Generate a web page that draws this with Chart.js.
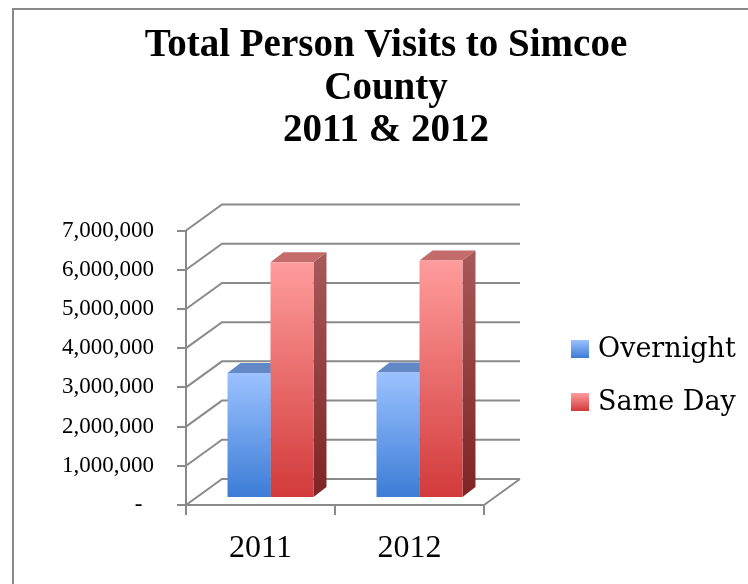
<!DOCTYPE html>
<html>
<head>
<meta charset="utf-8">
<style>
  html, body { margin: 0; padding: 0; background: #fff; }
  #wrap { width: 748px; height: 584px; }
</style>
<script src="https://cdn.jsdelivr.net/npm/chart.js@4/dist/chart.umd.min.js"></script>
</head>
<body>
<div id="wrap"><canvas id="chart" width="748" height="584"></canvas></div>
<script>
const years = ['2011', '2012'];
const overnight = [3190000, 3200000];
const sameDay = [6010000, 6060000];
const visitTicks = [0, 1000000, 2000000, 3000000, 4000000, 5000000, 6000000, 7000000];
const titleLines = ['Total Person Visits to Simcoe', 'County', '2011 & 2012'];

// fake 3d: back wall offset, bar offset from the front plane, bar depth
const WALL_DX = 36, WALL_DY = -26;
const BAR_DX = 10, BAR_DY = -7;
const SIDE_DX = 13, SIDE_DY = -10;
const GRID = '#8a8a8a';

const palette = [
  { light: '#9cc2ff', dark: '#3b7cd6', top: '#6288c6', sideLight: '#4d76b8', sideDark: '#2b5596' },
  { light: '#ff9c9c', dark: '#d23a3a', top: '#c46b6b', sideLight: '#a65757', sideDark: '#7e2424' }
];

function frontGradient(c) {
  const chart = c.chart;
  const y = chart.scales.y;
  const p = palette[c.datasetIndex];
  if (!y || c.raw === undefined) return p.light;
  const y0 = y.getPixelForValue(c.raw), y1 = y.getPixelForValue(0);
  if (!isFinite(y0) || !isFinite(y1) || y0 === y1) return p.light;
  const g = chart.ctx.createLinearGradient(0, y0, 0, y1);
  g.addColorStop(0, p.light);
  g.addColorStop(1, p.dark);
  return g;
}

const frame = {
  id: 'frame',
  beforeDraw(chart) {
    const ctx = chart.ctx;
    ctx.save();
    ctx.strokeStyle = '#888';
    ctx.lineWidth = 2;
    ctx.strokeRect(13, 9, 760, 600);
    ctx.restore();
  }
};

const walls = {
  id: 'walls',
  beforeDatasetsDraw(chart) {
    const ctx = chart.ctx;
    const x = chart.scales.x, y = chart.scales.y;
    const left = x.left, right = x.right;
    ctx.save();
    ctx.strokeStyle = GRID;
    ctx.lineWidth = 2;
    ctx.beginPath();
    visitTicks.forEach(v => {
      const py = y.getPixelForValue(v);
      ctx.moveTo(left, py);
      ctx.lineTo(left + WALL_DX, py + WALL_DY);
      ctx.lineTo(right + WALL_DX, py + WALL_DY);
    });
    // floor edge on the right
    const base = y.getPixelForValue(0);
    ctx.moveTo(right, base);
    ctx.lineTo(right + WALL_DX, base + WALL_DY);
    ctx.stroke();

    // side and top faces of the bars, fronts are drawn by chart.js afterwards
    ctx.translate(BAR_DX, BAR_DY);
    chart.data.datasets.forEach((ds, i) => {
      const p = palette[i];
      chart.getDatasetMeta(i).data.forEach(bar => {
        const b = bar.getProps(['x', 'y', 'base', 'width'], true);
        const l = b.x - b.width / 2, r = b.x + b.width / 2;
        const sg = ctx.createLinearGradient(0, b.y, 0, b.base);
        sg.addColorStop(0, p.sideLight);
        sg.addColorStop(1, p.sideDark);
        ctx.fillStyle = sg;
        ctx.beginPath();
        ctx.moveTo(r, b.y);
        ctx.lineTo(r + SIDE_DX, b.y + SIDE_DY);
        ctx.lineTo(r + SIDE_DX, b.base + SIDE_DY);
        ctx.lineTo(r, b.base);
        ctx.closePath();
        ctx.fill();
        ctx.fillStyle = p.top;
        ctx.beginPath();
        ctx.moveTo(l, b.y);
        ctx.lineTo(r, b.y);
        ctx.lineTo(r + SIDE_DX, b.y + SIDE_DY);
        ctx.lineTo(l + SIDE_DX, b.y + SIDE_DY);
        ctx.closePath();
        ctx.fill();
      });
    });
  },
  afterDatasetsDraw(chart) {
    chart.ctx.restore();
  }
};

const sideLegend = {
  id: 'sideLegend',
  afterDraw(chart) {
    const ctx = chart.ctx;
    ctx.save();
    ctx.font = '27px "DejaVu Serif"';
    ctx.textBaseline = 'middle';
    chart.data.datasets.forEach((ds, i) => {
      const p = palette[i];
      const cy = 349 + i * 53;
      const g = ctx.createLinearGradient(0, cy - 9, 0, cy + 9);
      g.addColorStop(0, p.light);
      g.addColorStop(1, p.dark);
      ctx.fillStyle = g;
      ctx.fillRect(571, cy - 9, 18, 18);
      ctx.fillStyle = '#000';
      ctx.fillText(ds.label, 598, cy + 1);
    });
    ctx.restore();
  }
};

new Chart(document.getElementById('chart'), {
  type: 'bar',
  data: {
    labels: years,
    datasets: [
      { label: 'Overnight', data: overnight, backgroundColor: frontGradient },
      { label: 'Same Day', data: sameDay, backgroundColor: frontGradient }
    ]
  },
  options: {
    responsive: false,
    animation: false,
    events: [],
    categoryPercentage: 0.577,
    barPercentage: 1,
    layout: { padding: { left: 24, right: 0, top: 0, bottom: 0 } },
    plugins: {
      legend: { display: false },
      tooltip: { enabled: false },
      title: {
        display: true,
        text: titleLines,
        color: '#000',
        font: { family: '"Liberation Serif"', size: 39, weight: 'bold', lineHeight: 1.09 },
        padding: { top: 25, bottom: 78 }
      }
    },
    scales: {
      x: {
        grid: { drawOnChartArea: false, drawTicks: true, tickLength: 10, color: GRID, lineWidth: 2 },
        border: { display: true, color: GRID, width: 2 },
        ticks: { color: '#000', padding: 14, font: { family: '"Liberation Serif"', size: 32 } },
        afterFit(s) { s.height = 79; }
      },
      y: {
        min: 0,
        max: 7000000,
        afterBuildTicks(s) { s.ticks = visitTicks.map(v => ({ value: v })); },
        grid: { drawOnChartArea: false, drawTicks: true, tickLength: 9, color: GRID, lineWidth: 2 },
        border: { display: true, color: GRID, width: 2 },
        ticks: {
          color: '#000',
          padding: 23,
          font: { family: '"Liberation Serif"', size: 23 },
          callback: v => v === 0 ? '-  ' : v.toLocaleString('en-US')
        },
        afterFit(s) { s.width = 162; }
      },
      // empty axis that reserves the room for the legend on the right
      legendRoom: {
        type: 'linear',
        position: 'right',
        grid: { display: false },
        border: { display: false },
        ticks: { display: false },
        afterFit(s) { s.width = 264; }
      }
    }
  },
  plugins: [frame, walls, sideLegend]
});
</script>
</body>
</html>
